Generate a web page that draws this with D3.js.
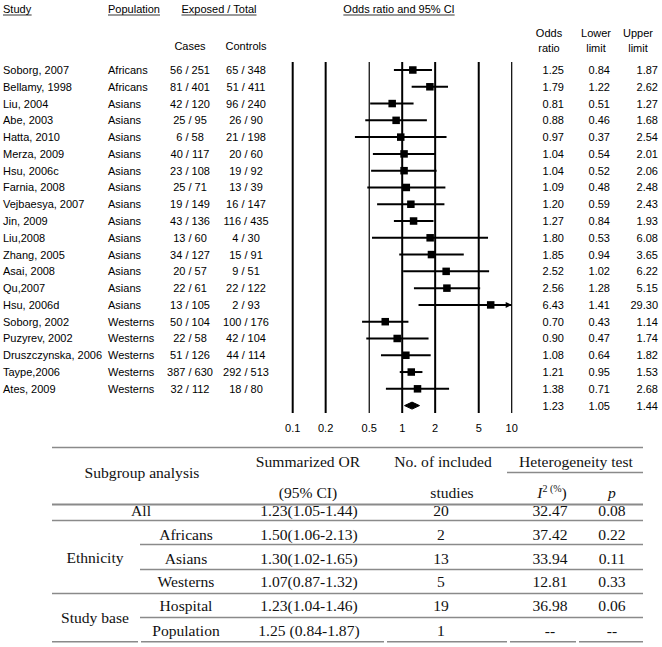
<!DOCTYPE html>
<html>
<head>
<meta charset="utf-8">
<script src="https://cdn.jsdelivr.net/npm/d3@7"></script>
<style>
  html, body { margin: 0; padding: 0; background: #fff; }
  svg { display: block; }
</style>
</head>
<body>
<div id="chart"></div>
<script>
// ---------- data ----------
const studies = ["Soborg, 2007","Bellamy, 1998","Liu, 2004","Abe, 2003","Hatta, 2010","Merza, 2009","Hsu, 2006c","Farnia, 2008","Vejbaesya, 2007","Jin, 2009","Liu,2008","Zhang, 2005","Asai, 2008","Qu,2007","Hsu, 2006d","Soborg, 2002","Puzyrev, 2002","Druszczynska, 2006","Taype,2006","Ates, 2009"];
const populations = ["Africans","Africans","Asians","Asians","Asians","Asians","Asians","Asians","Asians","Asians","Asians","Asians","Asians","Asians","Asians","Westerns","Westerns","Westerns","Westerns","Westerns"];
const casesExposed = [56,81,42,25,6,40,23,25,19,43,13,34,20,22,13,50,22,51,387,32];
const casesTotal   = [251,401,120,95,58,117,108,71,149,136,60,127,57,61,105,104,58,126,630,112];
const controlsExposed = [65,51,96,26,21,20,19,13,16,116,4,15,9,22,2,100,42,44,292,18];
const controlsTotal   = [348,411,240,90,198,60,92,39,147,435,30,91,51,122,93,176,104,114,513,80];
const oddsRatio  = [1.25,1.79,0.81,0.88,0.97,1.04,1.04,1.09,1.20,1.27,1.80,1.85,2.52,2.56,6.43,0.70,0.90,1.08,1.21,1.38];
const lowerLimit = [0.84,1.22,0.51,0.46,0.37,0.54,0.52,0.48,0.59,0.84,0.53,0.94,1.02,1.28,1.41,0.43,0.47,0.64,0.95,0.71];
const upperLimit = [1.87,2.62,1.27,1.68,2.54,2.01,2.06,2.48,2.43,1.93,6.08,3.65,6.22,5.15,29.30,1.14,1.74,1.82,1.53,2.68];
const summaryOR = [1.23, 1.05, 1.44]; // OR, lower, upper
const axisTicks = [0.1, 0.2, 0.5, 1, 2, 5, 10];
const axisTickLabels = ["0.1","0.2","0.5","1","2","5","10"];

// subgroup table
const tableGroups = ["", "Ethnicity", "Ethnicity", "Ethnicity", "Study base", "Study base"];
const tableSubgroups = ["All","Africans","Asians","Westerns","Hospital","Population"];
const tableOR = ["1.23(1.05-1.44)","1.50(1.06-2.13)","1.30(1.02-1.65)","1.07(0.87-1.32)","1.23(1.04-1.46)","1.25 (0.84-1.87)"];
const tableN = ["20","2","13","5","19","1"];
const tableI2 = ["32.47","37.42","33.94","12.81","36.98","--"];
const tableP = ["0.08","0.22","0.11","0.33","0.06","--"];

// ---------- drawing ----------
const W = 662, H = 647;
const svg = d3.select("#chart").append("svg").attr("width", W).attr("height", H);
svg.append("rect").attr("width", W).attr("height", H).attr("fill", "#fff");

const sans = "Arial, 'Liberation Sans', sans-serif";
const serif = "'Times New Roman', 'Liberation Serif', serif";

const x = d3.scaleLog().domain([0.1, 10]).range([292.7, 511.7]);
const y = d3.scaleLinear().domain([0, 20]).range([70, 405.6]);

const gTop = svg.append("g").attr("font-family", sans).attr("font-size", 11).attr("fill", "#000");

// headers
function uText(g, tx, ty, str, anchor) {
  const t = g.append("text").attr("x", tx).attr("y", ty).attr("text-anchor", anchor || "start").text(str);
  const bb = t.node().getBBox();
  g.append("line").attr("x1", bb.x).attr("x2", bb.x + bb.width)
    .attr("y1", ty + 2).attr("y2", ty + 2).attr("stroke", "#000").attr("stroke-width", 0.8);
}
uText(gTop, 3, 13, "Study");
uText(gTop, 108, 13, "Population");
uText(gTop, 219, 13, "Exposed / Total", "middle");
uText(gTop, 399, 13, "Odds ratio and 95% CI", "middle");

gTop.append("text").attr("x", 190).attr("y", 50).attr("text-anchor", "middle").text("Cases");
gTop.append("text").attr("x", 246).attr("y", 50).attr("text-anchor", "middle").text("Controls");

const colHeads = [["Odds","ratio",549],["Lower","limit",596],["Upper","limit",638]];
colHeads.forEach(h => {
  gTop.append("text").attr("x", h[2]).attr("y", 37).attr("text-anchor", "middle").text(h[0]);
  gTop.append("text").attr("x", h[2]).attr("y", 52).attr("text-anchor", "middle").text(h[1]);
});

// vertical reference lines
gTop.selectAll("line.ref").data(axisTicks).enter().append("line")
  .attr("class", "ref")
  .attr("x1", d => x(d)).attr("x2", d => x(d))
  .attr("y1", 62).attr("y2", 413)
  .attr("stroke", "#000")
  .attr("stroke-width", d => (d === 0.5 || d === 10) ? 1.2 : 2);

// axis labels
gTop.selectAll("text.tick").data(axisTicks).enter().append("text")
  .attr("class", "tick")
  .attr("x", d => x(d)).attr("y", 432)
  .attr("text-anchor", "middle")
  .text((d, i) => axisTickLabels[i]);

// rows
const idx = d3.range(studies.length);
const rows = gTop.selectAll("g.row").data(idx).enter().append("g").attr("class", "row");
rows.append("text").attr("x", 3).attr("y", i => y(i) + 4).text(i => studies[i]);
rows.append("text").attr("x", 108).attr("y", i => y(i) + 4).text(i => populations[i]);
rows.append("text").attr("x", 190).attr("y", i => y(i) + 4).attr("text-anchor", "middle")
  .text(i => casesExposed[i] + " / " + casesTotal[i]);
rows.append("text").attr("x", 246).attr("y", i => y(i) + 4).attr("text-anchor", "middle")
  .text(i => controlsExposed[i] + " / " + controlsTotal[i]);
rows.append("text").attr("x", 564).attr("y", i => y(i) + 4).attr("text-anchor", "end")
  .text(i => oddsRatio[i].toFixed(2));
rows.append("text").attr("x", 610).attr("y", i => y(i) + 4).attr("text-anchor", "end")
  .text(i => lowerLimit[i].toFixed(2));
rows.append("text").attr("x", 658).attr("y", i => y(i) + 4).attr("text-anchor", "end")
  .text(i => upperLimit[i].toFixed(2));

// CI lines
const xmax = x.domain()[1];
rows.append("line")
  .attr("x1", i => x(lowerLimit[i]))
  .attr("x2", i => x(Math.min(upperLimit[i], xmax)))
  .attr("y1", i => y(i)).attr("y2", i => y(i))
  .attr("stroke", "#000").attr("stroke-width", 2);
// arrow for truncated CI
rows.filter(i => upperLimit[i] > xmax).append("path")
  .attr("d", i => {
    const xe = x(xmax), yy = y(i);
    return `M${xe},${yy} L${xe - 6},${yy - 3} L${xe - 6},${yy + 3} Z`;
  })
  .attr("fill", "#000");
// squares
const sq = 7.5;
rows.append("rect")
  .attr("x", i => x(oddsRatio[i]) - sq / 2)
  .attr("y", i => y(i) - sq / 2)
  .attr("width", sq).attr("height", sq)
  .attr("fill", "#000");

// summary row
const ys = y(20);
gTop.append("text").attr("x", 564).attr("y", ys + 4).attr("text-anchor", "end").text(summaryOR[0].toFixed(2));
gTop.append("text").attr("x", 610).attr("y", ys + 4).attr("text-anchor", "end").text(summaryOR[1].toFixed(2));
gTop.append("text").attr("x", 658).attr("y", ys + 4).attr("text-anchor", "end").text(summaryOR[2].toFixed(2));
gTop.append("path")
  .attr("d", `M${x(summaryOR[1])},${ys} L${x(summaryOR[0])},${ys - 3.5} L${x(summaryOR[2])},${ys} L${x(summaryOR[0])},${ys + 3.5} Z`)
  .attr("fill", "#000").attr("stroke", "#000").attr("stroke-width", 1);

// ---------- subgroup table ----------
const tb = svg.append("g").attr("font-family", serif).attr("font-size", 15.6).attr("fill", "#111");
const L = 52, R = 643;
const lineCol = "#8a8a8a";
function hline(x1, x2, yy, w) {
  tb.append("line").attr("x1", x1).attr("x2", x2).attr("y1", yy).attr("y2", yy)
    .attr("stroke", lineCol).attr("stroke-width", w || 1.6);
}
hline(L, R, 447.5, 1.4);
hline(507, R, 472.5, 1.6);
hline(L, R, 504.5, 2.2);
hline(L, R, 520.5, 1.6);
hline(140, R, 544.5, 1.6);
hline(140, R, 569.5, 1.6);
hline(L, R, 593.5, 1.6);
hline(140, R, 617.5, 1.6);
// bottom line with small gaps at column boundaries
[[L, 138], [141, 384], [387, 507], [510, 576], [579, R]].forEach(s => hline(s[0], s[1], 641.8, 1.6));

// header texts
function ctext(tx, ty, str) {
  return tb.append("text").attr("x", tx).attr("y", ty).attr("text-anchor", "middle").text(str);
}
ctext(142, 478, "Subgroup analysis");
ctext(308, 467, "Summarized OR");
ctext(308, 498, "(95% CI)");
ctext(443, 467, "No. of included");
ctext(452, 498, "studies");
ctext(576, 467, "Heterogeneity test");
const i2 = tb.append("text").attr("x", 552).attr("y", 498).attr("text-anchor", "middle");
i2.append("tspan").attr("font-style", "italic").text("I");
i2.append("tspan").attr("font-size", 10).attr("dy", -6).text("2 (%");
i2.append("tspan").attr("dy", 6).text(")");
ctext(612, 498, "p").attr("font-style", "italic");

// body
const rowY = [516, 539.5, 563.5, 587, 611, 635.5];
tableSubgroups.forEach((s, i) => {
  if (i === 0) ctext(141, rowY[i], s);
  else ctext(186, rowY[i], s);
  ctext(309, rowY[i], tableOR[i]);
  ctext(441, rowY[i], tableN[i]);
  ctext(550, rowY[i], tableI2[i]);
  ctext(612, rowY[i], tableP[i]);
});
ctext(95, 563, tableGroups[1]);
ctext(95, 623, tableGroups[4]);
</script>
</body>
</html>
